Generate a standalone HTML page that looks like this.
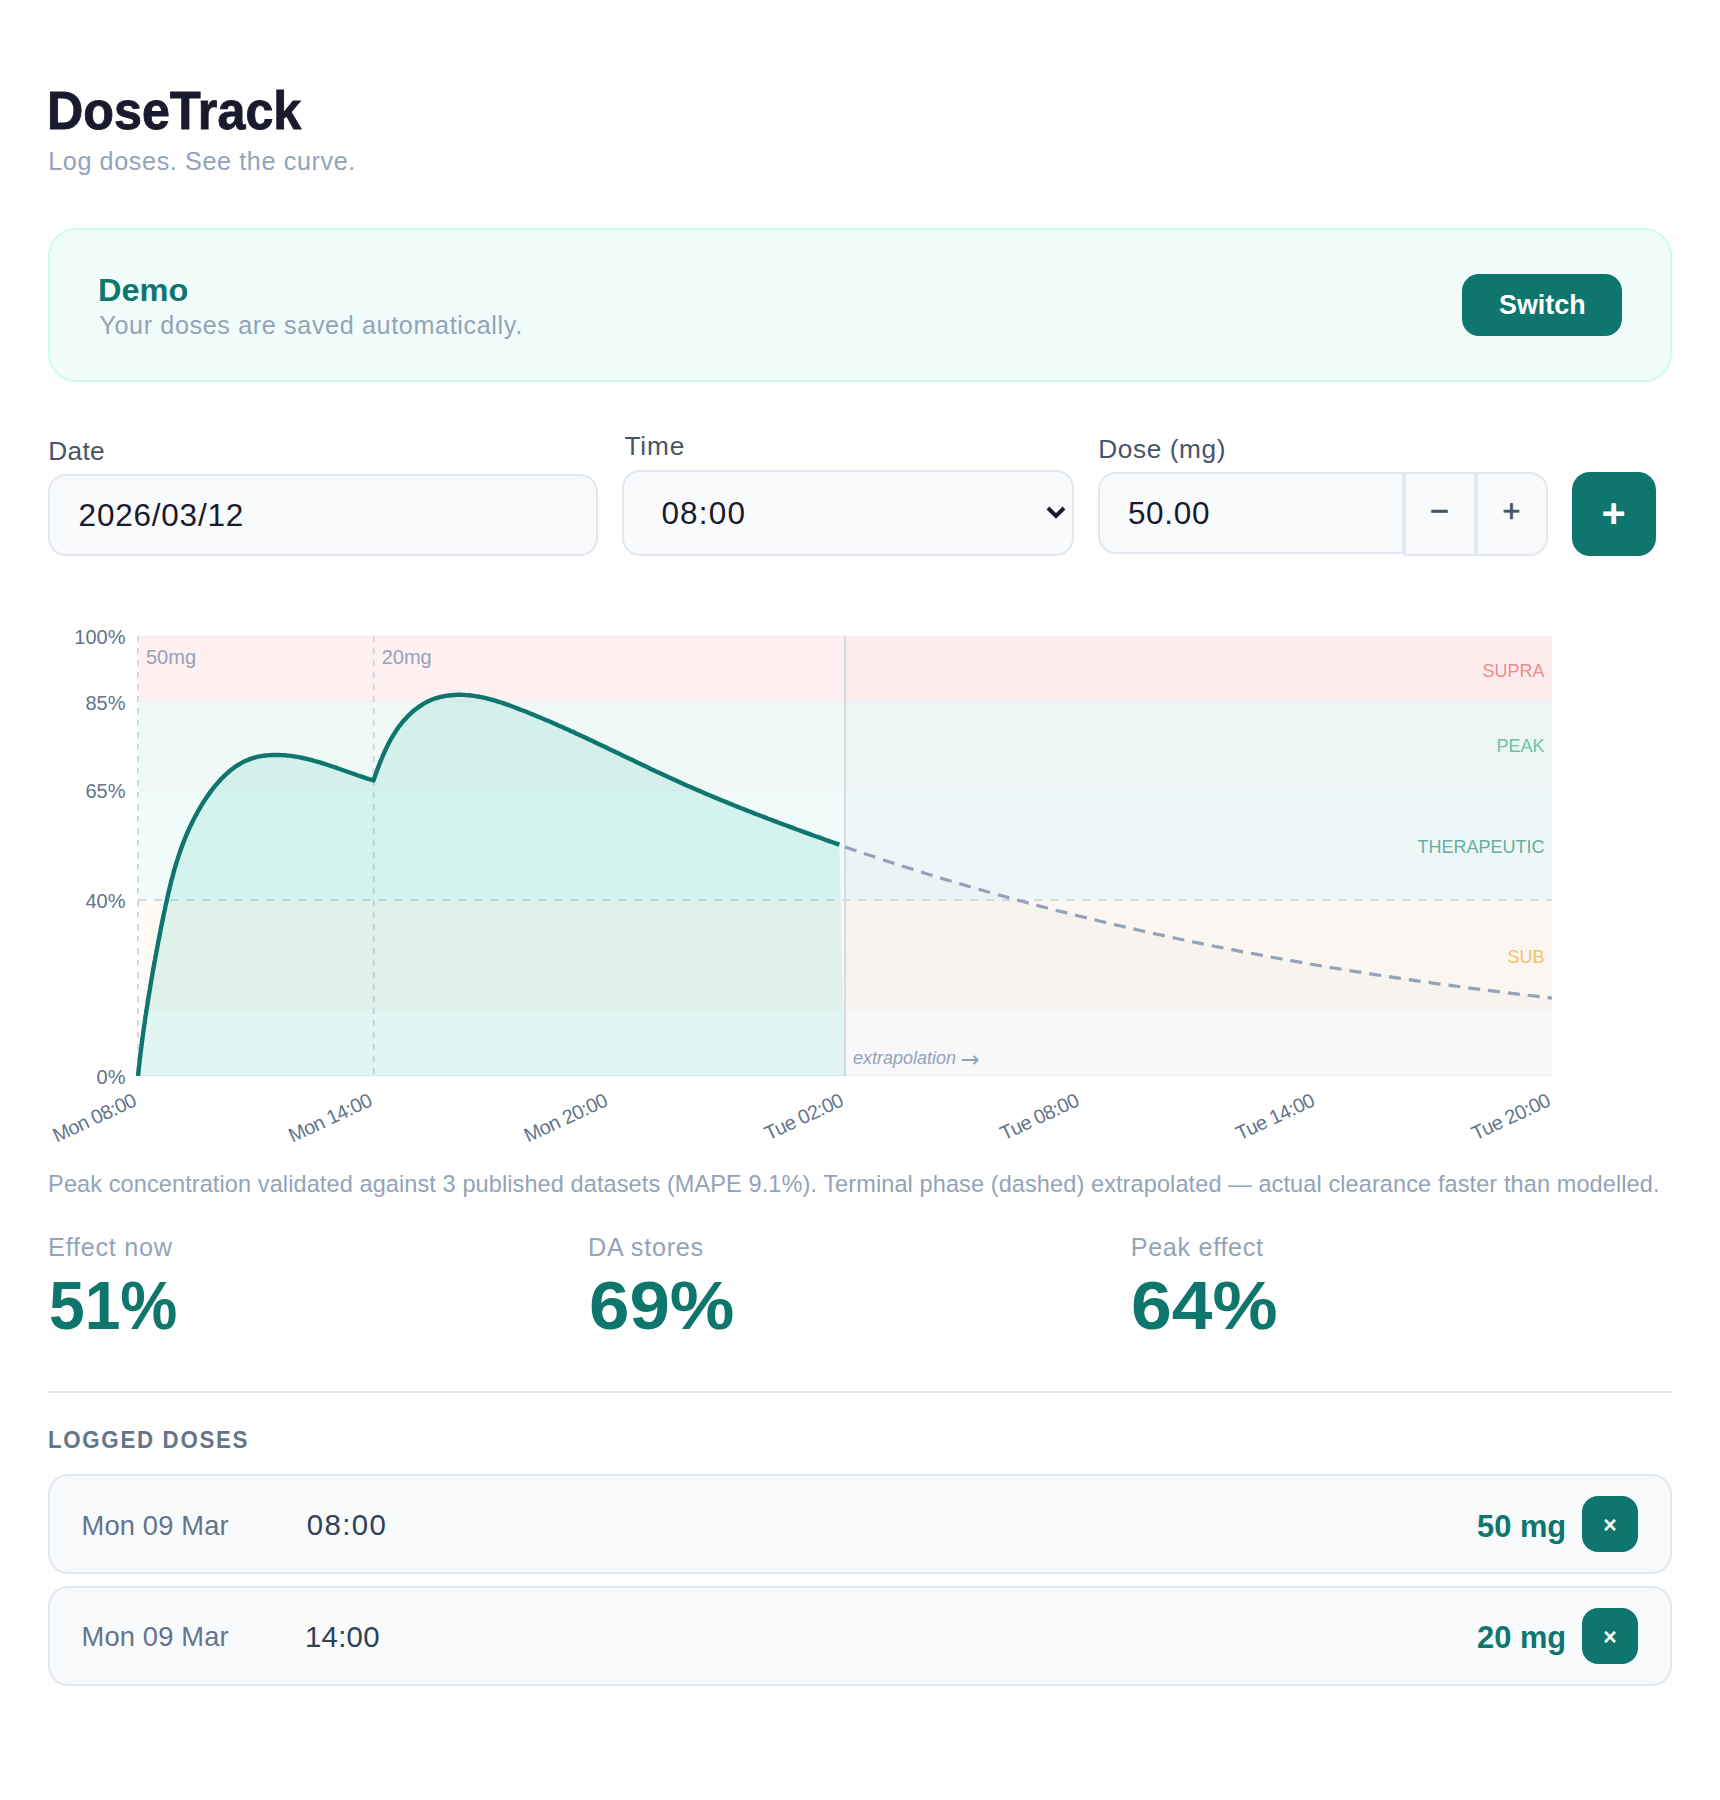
<!DOCTYPE html>
<html lang="en"><head><meta charset="utf-8"><title>DoseTrack</title>
<style>
*{box-sizing:border-box;margin:0;padding:0}
html,body{width:1720px;height:1800px;background:#fff;overflow:hidden}
body{font-family:"Liberation Sans",Arial,sans-serif;color:#1a1a2e;position:relative}
.abs{position:absolute;white-space:nowrap}
h1{font-weight:700;color:#1a1a2e;-webkit-text-stroke:0.9px #1a1a2e}
.sub,.saved,.note,.slabel{color:#94a3b8}
.banner{left:48px;top:228px;width:1624px;height:154px;background:#f0fdfa;border:2px solid #ccfbf1;border-radius:28px}
.demo{font-weight:700;color:#0f766e}
button{font-family:"Liberation Sans",Arial,sans-serif;border:0;cursor:pointer;padding:0}
.switch{left:1412px;top:44px;width:160px;height:62px;border-radius:17px;background:#0f766e}
.swt{color:#fff;font-weight:700;pointer-events:none}
label{color:#475569}
.field{background:#f8fafc;border:2px solid #e2e8f0;border-radius:18px;font-family:"Liberation Sans",Arial,sans-serif;color:#1a1a2e;outline:0;appearance:none;-webkit-appearance:none}
.step{background:#f8fafc;border:2px solid #e2e8f0;color:#475569;border-radius:0}
.add{left:1572px;top:472px;width:84px;height:84px;border-radius:18px;background:#0f766e;color:#fff}
svg text{font-family:"Liberation Sans",Arial,sans-serif}
.sval{font-weight:700;color:#0f766e}
.hr{left:48px;top:1391px;width:1624px;height:2px;background:#e2e8f0}
.logged{font-weight:700;color:#64748b}
.row{left:48px;width:1624px;height:99.5px;background:#f8fafc;border:2px solid #e2e8f0;border-radius:20px}
.rdate{color:#64748b}
.rtime{color:#334155}
.rdose{font-weight:700;color:#0f766e}
.del{left:1532px;width:56px;height:56px;border-radius:16px;background:#0f766e;color:#fff;font-size:23px;font-weight:700;line-height:26px;padding-top:3.4px}
</style></head><body>
<h1 class="abs" id="title" style="left:47.20px;top:84.81px;font-size:52.94px;line-height:52.94px;letter-spacing:0.000px;transform:scaleX(0.9497);transform-origin:0 0;">DoseTrack</h1>
<p class="abs sub" id="sub" style="left:48.20px;top:148.67px;font-size:25.2px;line-height:25.2px;letter-spacing:0.602px;">Log doses. See the curve.</p>

<section class="abs banner" id="banner">
<div class="abs demo" id="demo" style="left:48.30px;top:45.34px;font-size:31.5px;line-height:31.5px;letter-spacing:0.000px;transform:scaleX(1.0334);transform-origin:0 0;">Demo</div>
<div class="abs saved" id="saved" style="left:49.30px;top:82.67px;font-size:25.2px;line-height:25.2px;letter-spacing:0.618px;">Your doses are saved automatically.</div>
<button class="abs switch" id="switch"><span class="abs swt" id="swt" style="left:37.30px;top:16.98px;font-size:27.2px;line-height:27.2px;letter-spacing:0.000px;transform:scaleX(0.9885);transform-origin:0 0;">Switch</span></button>
</section>

<label class="abs" id="ldate" for="idate" style="left:48.30px;top:437.78px;font-size:26.25px;line-height:26.25px;letter-spacing:0.270px;">Date</label>
<input class="abs field" id="idate" type="text" value="2026/03/12" style="left:48px;top:474px;width:550px;height:82px;padding:0 0 0 28.60px;font-size:31.5px;letter-spacing:0.778px;">
<label class="abs" id="ltime" for="itime" style="left:624.50px;top:433.28px;font-size:26.25px;line-height:26.25px;letter-spacing:0.803px;">Time</label>
<select class="abs field" id="itime" style="left:622px;top:470px;width:452px;height:86px;padding:0 0 0 37.40px;font-size:31.5px;letter-spacing:1.200px;"><option selected>08:00</option><option>14:00</option><option>20:00</option></select>
<svg class="abs" style="left:1040px;top:500px;pointer-events:none" aria-hidden="true" width="32" height="24" viewBox="1040 500 32 24"><path d="M1048,508 L1056,516 L1064,508" fill="none" stroke="#1a1a2e" stroke-width="4"/></svg>
<label class="abs" id="ldose" for="idose" style="left:1098.20px;top:435.78px;font-size:26.25px;line-height:26.25px;letter-spacing:0.593px;">Dose (mg)</label>
<input class="abs field" id="idose" type="text" inputmode="decimal" value="50.00" style="left:1098px;top:472px;width:306px;height:82px;padding:0 0 0 27.90px;font-size:31.5px;letter-spacing:0.700px;border-radius:18px 0 0 18px">
<button class="abs step" id="minus" aria-label="Decrease dose" style="left:1404px;top:472px;width:72px;height:84px"><span class="abs" id="gminus" style="left:23.7px;top:21.4px;font-size:32.6px;line-height:32.6px;color:#475569;-webkit-text-stroke:0.7px #475569">−</span></button>
<button class="abs step" id="plus" aria-label="Increase dose" style="left:1476px;top:472px;width:72px;height:84px;border-radius:0 18px 18px 0"><span class="abs" id="gplus" style="left:24.5px;top:21.9px;font-size:30.6px;line-height:30.6px;color:#475569;-webkit-text-stroke:0.7px #475569">+</span></button>
<button class="abs add" id="add" aria-label="Add dose"><span class="abs" id="gadd" style="left:29.6px;top:19.6px;font-size:41.5px;line-height:41.5px;font-weight:700;color:#fff">+</span></button>

<svg class="abs" id="chart" role="img" aria-label="Effect curve" style="left:0;top:600px" width="1720" height="560" viewBox="0 600 1720 560">
<g>
<rect x="138" y="636" width="1414" height="65.5" fill="#fef0f0"/>
<rect x="138" y="701.5" width="1414" height="89" fill="#f0f9f6"/>
<rect x="138" y="790.5" width="1414" height="110.1" fill="#f1fbfa"/>
<rect x="138" y="900.6" width="1414" height="109.4" fill="#fefaf4"/>
<rect x="845" y="636" width="707" height="440" fill="#94a3b8" fill-opacity="0.04"/>
</g>
<g stroke="#edf1f6" stroke-width="1" fill="none">
<line x1="138" y1="636" x2="1552" y2="636"/><line x1="138" y1="701.5" x2="1552" y2="701.5"/><line x1="138" y1="790.5" x2="1552" y2="790.5"/><line x1="138" y1="1075.8" x2="1552" y2="1075.8"/>
</g>
<g stroke="#d2d9e5" stroke-width="2" fill="none">
<line x1="138" y1="900" x2="1552" y2="900" stroke-dasharray="8 8"/>
<line x1="138" y1="636" x2="138" y2="1076" stroke-dasharray="6 6"/>
<line x1="373.7" y1="636" x2="373.7" y2="1076" stroke-dasharray="6 6"/>
<line x1="845" y1="636" x2="845" y2="1076" stroke="#d3dbe6"/>
</g>
<path d="M845.1,846.9 L850.8,848.9 L856.4,850.8 L862.1,852.8 L867.8,854.7 L873.5,856.6 L879.2,858.5 L884.9,860.4 L890.6,862.3 L896.3,864.1 L902.0,866.0 L907.7,867.8 L913.5,869.6 L919.2,871.4 L924.9,873.2 L930.6,875.0 L936.4,876.7 L942.1,878.5 L947.8,880.2 L953.6,881.9 L959.3,883.6 L965.1,885.3 L970.9,887.0 L976.6,888.7 L982.4,890.3 L988.2,892.0 L993.9,893.6 L999.7,895.2 L1005.5,896.8 L1011.3,898.4 L1017.1,900.0 L1022.8,901.5 L1028.6,903.1 L1034.4,904.6 L1040.2,906.2 L1046.0,907.7 L1051.8,909.2 L1057.7,910.7 L1063.5,912.1 L1069.3,913.6 L1075.1,915.1 L1080.9,916.5 L1086.8,917.9 L1092.6,919.3 L1098.4,920.8 L1104.2,922.1 L1110.1,923.5 L1115.9,924.9 L1121.8,926.3 L1127.6,927.6 L1133.5,928.9 L1139.3,930.3 L1145.2,931.6 L1151.0,932.9 L1156.9,934.2 L1162.7,935.4 L1168.6,936.7 L1174.5,938.0 L1180.3,939.2 L1186.2,940.4 L1192.1,941.7 L1198.0,942.9 L1203.8,944.1 L1209.7,945.3 L1215.6,946.5 L1221.5,947.6 L1227.4,948.8 L1233.3,949.9 L1239.2,951.1 L1245.1,952.2 L1251.0,953.3 L1256.9,954.4 L1262.8,955.5 L1268.7,956.6 L1274.6,957.7 L1280.5,958.8 L1286.4,959.8 L1292.3,960.9 L1298.2,961.9 L1304.1,962.9 L1310.0,964.0 L1315.9,965.0 L1321.9,966.0 L1327.8,967.0 L1333.7,968.0 L1339.6,968.9 L1345.5,969.9 L1351.5,970.8 L1357.4,971.8 L1363.3,972.7 L1369.3,973.7 L1375.2,974.6 L1381.1,975.5 L1387.1,976.4 L1393.0,977.3 L1398.9,978.2 L1404.9,979.0 L1410.8,979.9 L1416.7,980.8 L1422.7,981.6 L1428.6,982.4 L1434.6,983.3 L1440.5,984.1 L1446.5,984.9 L1452.4,985.7 L1458.4,986.5 L1464.3,987.3 L1470.2,988.1 L1476.2,988.9 L1482.1,989.6 L1488.1,990.4 L1494.0,991.2 L1500.0,991.9 L1505.9,992.6 L1511.9,993.4 L1517.9,994.1 L1523.8,994.8 L1529.8,995.5 L1535.7,996.2 L1541.7,996.9 L1547.6,997.6 L1552.0,998.1 L1552,1076 L845,1076 Z" fill="#94a3b8" fill-opacity="0.03"/>
<path d="M138.0,1076.0 L138.3,1073.1 L138.6,1070.2 L138.9,1067.3 L139.3,1064.3 L139.6,1061.4 L139.9,1058.5 L140.3,1055.6 L140.6,1052.6 L141.0,1049.7 L141.4,1046.7 L141.7,1043.8 L142.1,1040.8 L142.5,1037.8 L142.9,1034.9 L143.3,1031.9 L143.7,1028.9 L144.1,1025.9 L144.6,1023.0 L145.0,1020.0 L145.4,1017.0 L145.9,1014.0 L146.3,1011.0 L146.8,1008.0 L147.3,1005.0 L147.7,1002.1 L148.2,999.1 L148.7,996.1 L149.2,993.1 L149.7,990.1 L150.2,987.1 L150.7,984.1 L151.2,981.1 L151.7,978.1 L152.2,975.1 L152.7,972.1 L153.2,969.1 L153.8,966.1 L154.3,963.1 L154.9,960.1 L155.4,957.1 L156.0,954.1 L156.5,951.2 L157.1,948.2 L157.7,945.2 L158.2,942.2 L158.8,939.2 L159.4,936.3 L160.0,933.3 L160.5,930.3 L161.1,927.4 L161.7,924.4 L162.3,921.5 L162.9,918.5 L163.5,915.6 L164.1,912.6 L164.8,909.7 L165.4,906.7 L166.0,903.8 L166.7,900.9 L167.3,898.0 L168.0,895.1 L168.6,892.2 L169.3,889.3 L170.0,886.4 L170.7,883.5 L171.4,880.6 L172.2,877.8 L173.0,874.9 L173.7,872.0 L174.5,869.2 L175.4,866.4 L176.2,863.5 L177.1,860.7 L178.0,857.9 L178.9,855.1 L179.8,852.3 L180.8,849.5 L181.8,846.7 L182.8,843.9 L183.9,841.2 L185.0,838.4 L186.1,835.7 L187.3,833.0 L188.5,830.2 L189.7,827.5 L191.0,824.8 L192.3,822.1 L193.6,819.5 L195.0,816.8 L196.4,814.2 L197.9,811.5 L199.4,808.9 L200.9,806.3 L202.5,803.7 L204.1,801.1 L205.8,798.5 L207.6,795.9 L209.4,793.4 L211.2,790.9 L213.1,788.4 L215.0,786.0 L217.0,783.7 L219.0,781.4 L221.1,779.1 L223.2,776.9 L225.4,774.8 L227.6,772.8 L229.9,770.8 L232.2,769.0 L234.6,767.2 L237.0,765.6 L239.5,764.1 L242.0,762.6 L244.6,761.3 L247.2,760.2 L249.9,759.1 L252.7,758.2 L255.4,757.4 L258.3,756.7 L261.1,756.2 L264.0,755.7 L266.9,755.4 L269.9,755.1 L272.9,755.0 L275.8,754.9 L278.8,755.0 L281.8,755.1 L284.9,755.3 L287.9,755.6 L290.9,755.9 L293.9,756.4 L296.9,756.9 L299.9,757.4 L302.9,758.0 L305.8,758.7 L308.8,759.4 L311.8,760.2 L314.7,761.0 L317.7,761.8 L320.7,762.7 L323.6,763.6 L326.5,764.5 L329.4,765.5 L332.4,766.5 L335.3,767.4 L338.2,768.5 L341.0,769.5 L343.9,770.5 L346.8,771.5 L349.6,772.5 L352.5,773.5 L355.3,774.5 L358.1,775.5 L360.9,776.4 L363.7,777.4 L366.4,778.3 L369.2,779.2 L371.9,780.0 L373.5,780.5 L374.4,777.8 L375.4,775.1 L376.3,772.4 L377.3,769.7 L378.4,766.9 L379.4,764.1 L380.5,761.3 L381.7,758.5 L382.9,755.6 L384.1,752.8 L385.4,750.0 L386.7,747.2 L388.1,744.5 L389.5,741.7 L391.0,739.0 L392.6,736.3 L394.2,733.7 L395.9,731.1 L397.6,728.5 L399.4,726.0 L401.3,723.6 L403.2,721.2 L405.3,718.9 L407.3,716.7 L409.5,714.6 L411.7,712.5 L414.0,710.5 L416.3,708.7 L418.7,706.9 L421.2,705.3 L423.7,703.7 L426.2,702.3 L428.9,701.0 L431.5,699.8 L434.3,698.8 L437.0,697.9 L439.8,697.1 L442.7,696.5 L445.6,695.9 L448.5,695.5 L451.4,695.2 L454.3,695.0 L457.3,694.8 L460.3,694.8 L463.2,694.9 L466.2,695.1 L469.2,695.3 L472.1,695.6 L475.0,696.1 L478.0,696.5 L480.9,697.1 L483.8,697.7 L486.7,698.4 L489.5,699.1 L492.4,699.9 L495.3,700.7 L498.1,701.6 L501.0,702.5 L503.8,703.4 L506.6,704.4 L509.5,705.4 L512.3,706.5 L515.1,707.5 L517.9,708.6 L520.7,709.7 L523.5,710.7 L526.3,711.8 L529.1,713.0 L531.9,714.1 L534.7,715.2 L537.5,716.4 L540.2,717.5 L543.0,718.7 L545.8,719.9 L548.6,721.1 L551.3,722.3 L554.1,723.5 L556.9,724.7 L559.6,725.9 L562.4,727.1 L565.1,728.4 L567.9,729.6 L570.6,730.9 L573.4,732.1 L576.1,733.4 L578.9,734.7 L581.6,735.9 L584.4,737.2 L587.1,738.5 L589.8,739.8 L592.6,741.1 L595.3,742.4 L598.1,743.7 L600.8,745.0 L603.5,746.3 L606.2,747.6 L609.0,748.9 L611.7,750.2 L614.4,751.5 L617.1,752.8 L619.9,754.1 L622.6,755.4 L625.3,756.7 L628.0,758.0 L630.8,759.3 L633.5,760.6 L636.2,761.9 L638.9,763.2 L641.6,764.5 L644.4,765.8 L647.1,767.1 L649.8,768.4 L652.5,769.7 L655.2,771.0 L657.9,772.2 L660.7,773.5 L663.4,774.8 L666.1,776.0 L668.8,777.3 L671.5,778.5 L674.3,779.8 L677.0,781.0 L679.7,782.2 L682.4,783.5 L685.1,784.7 L687.9,785.9 L690.6,787.1 L693.3,788.3 L696.1,789.5 L698.8,790.6 L701.5,791.8 L704.2,793.0 L707.0,794.2 L709.7,795.3 L712.5,796.5 L715.2,797.6 L717.9,798.7 L720.7,799.9 L723.4,801.0 L726.2,802.1 L728.9,803.3 L731.7,804.4 L734.4,805.5 L737.2,806.6 L739.9,807.7 L742.7,808.8 L745.4,809.9 L748.2,811.0 L751.0,812.0 L753.7,813.1 L756.5,814.2 L759.3,815.3 L762.1,816.3 L764.9,817.4 L767.6,818.5 L770.4,819.5 L773.2,820.6 L776.0,821.6 L778.8,822.7 L781.6,823.7 L784.4,824.8 L787.2,825.8 L790.0,826.9 L792.9,827.9 L795.7,829.0 L798.5,830.0 L801.3,831.0 L804.2,832.1 L807.0,833.1 L809.8,834.1 L812.7,835.2 L815.5,836.2 L818.4,837.2 L821.3,838.2 L824.1,839.3 L827.0,840.3 L829.9,841.3 L832.7,842.3 L835.6,843.4 L838.5,844.4 L839.4,844.7 L845,1076 L138,1076 Z" fill="#14b8a6" fill-opacity="0.13"/>
<path d="M138.0,1076.0 L138.3,1073.1 L138.6,1070.2 L138.9,1067.3 L139.3,1064.3 L139.6,1061.4 L139.9,1058.5 L140.3,1055.6 L140.6,1052.6 L141.0,1049.7 L141.4,1046.7 L141.7,1043.8 L142.1,1040.8 L142.5,1037.8 L142.9,1034.9 L143.3,1031.9 L143.7,1028.9 L144.1,1025.9 L144.6,1023.0 L145.0,1020.0 L145.4,1017.0 L145.9,1014.0 L146.3,1011.0 L146.8,1008.0 L147.3,1005.0 L147.7,1002.1 L148.2,999.1 L148.7,996.1 L149.2,993.1 L149.7,990.1 L150.2,987.1 L150.7,984.1 L151.2,981.1 L151.7,978.1 L152.2,975.1 L152.7,972.1 L153.2,969.1 L153.8,966.1 L154.3,963.1 L154.9,960.1 L155.4,957.1 L156.0,954.1 L156.5,951.2 L157.1,948.2 L157.7,945.2 L158.2,942.2 L158.8,939.2 L159.4,936.3 L160.0,933.3 L160.5,930.3 L161.1,927.4 L161.7,924.4 L162.3,921.5 L162.9,918.5 L163.5,915.6 L164.1,912.6 L164.8,909.7 L165.4,906.7 L166.0,903.8 L166.7,900.9 L167.3,898.0 L168.0,895.1 L168.6,892.2 L169.3,889.3 L170.0,886.4 L170.7,883.5 L171.4,880.6 L172.2,877.8 L173.0,874.9 L173.7,872.0 L174.5,869.2 L175.4,866.4 L176.2,863.5 L177.1,860.7 L178.0,857.9 L178.9,855.1 L179.8,852.3 L180.8,849.5 L181.8,846.7 L182.8,843.9 L183.9,841.2 L185.0,838.4 L186.1,835.7 L187.3,833.0 L188.5,830.2 L189.7,827.5 L191.0,824.8 L192.3,822.1 L193.6,819.5 L195.0,816.8 L196.4,814.2 L197.9,811.5 L199.4,808.9 L200.9,806.3 L202.5,803.7 L204.1,801.1 L205.8,798.5 L207.6,795.9 L209.4,793.4 L211.2,790.9 L213.1,788.4 L215.0,786.0 L217.0,783.7 L219.0,781.4 L221.1,779.1 L223.2,776.9 L225.4,774.8 L227.6,772.8 L229.9,770.8 L232.2,769.0 L234.6,767.2 L237.0,765.6 L239.5,764.1 L242.0,762.6 L244.6,761.3 L247.2,760.2 L249.9,759.1 L252.7,758.2 L255.4,757.4 L258.3,756.7 L261.1,756.2 L264.0,755.7 L266.9,755.4 L269.9,755.1 L272.9,755.0 L275.8,754.9 L278.8,755.0 L281.8,755.1 L284.9,755.3 L287.9,755.6 L290.9,755.9 L293.9,756.4 L296.9,756.9 L299.9,757.4 L302.9,758.0 L305.8,758.7 L308.8,759.4 L311.8,760.2 L314.7,761.0 L317.7,761.8 L320.7,762.7 L323.6,763.6 L326.5,764.5 L329.4,765.5 L332.4,766.5 L335.3,767.4 L338.2,768.5 L341.0,769.5 L343.9,770.5 L346.8,771.5 L349.6,772.5 L352.5,773.5 L355.3,774.5 L358.1,775.5 L360.9,776.4 L363.7,777.4 L366.4,778.3 L369.2,779.2 L371.9,780.0 L373.5,780.5 L374.4,777.8 L375.4,775.1 L376.3,772.4 L377.3,769.7 L378.4,766.9 L379.4,764.1 L380.5,761.3 L381.7,758.5 L382.9,755.6 L384.1,752.8 L385.4,750.0 L386.7,747.2 L388.1,744.5 L389.5,741.7 L391.0,739.0 L392.6,736.3 L394.2,733.7 L395.9,731.1 L397.6,728.5 L399.4,726.0 L401.3,723.6 L403.2,721.2 L405.3,718.9 L407.3,716.7 L409.5,714.6 L411.7,712.5 L414.0,710.5 L416.3,708.7 L418.7,706.9 L421.2,705.3 L423.7,703.7 L426.2,702.3 L428.9,701.0 L431.5,699.8 L434.3,698.8 L437.0,697.9 L439.8,697.1 L442.7,696.5 L445.6,695.9 L448.5,695.5 L451.4,695.2 L454.3,695.0 L457.3,694.8 L460.3,694.8 L463.2,694.9 L466.2,695.1 L469.2,695.3 L472.1,695.6 L475.0,696.1 L478.0,696.5 L480.9,697.1 L483.8,697.7 L486.7,698.4 L489.5,699.1 L492.4,699.9 L495.3,700.7 L498.1,701.6 L501.0,702.5 L503.8,703.4 L506.6,704.4 L509.5,705.4 L512.3,706.5 L515.1,707.5 L517.9,708.6 L520.7,709.7 L523.5,710.7 L526.3,711.8 L529.1,713.0 L531.9,714.1 L534.7,715.2 L537.5,716.4 L540.2,717.5 L543.0,718.7 L545.8,719.9 L548.6,721.1 L551.3,722.3 L554.1,723.5 L556.9,724.7 L559.6,725.9 L562.4,727.1 L565.1,728.4 L567.9,729.6 L570.6,730.9 L573.4,732.1 L576.1,733.4 L578.9,734.7 L581.6,735.9 L584.4,737.2 L587.1,738.5 L589.8,739.8 L592.6,741.1 L595.3,742.4 L598.1,743.7 L600.8,745.0 L603.5,746.3 L606.2,747.6 L609.0,748.9 L611.7,750.2 L614.4,751.5 L617.1,752.8 L619.9,754.1 L622.6,755.4 L625.3,756.7 L628.0,758.0 L630.8,759.3 L633.5,760.6 L636.2,761.9 L638.9,763.2 L641.6,764.5 L644.4,765.8 L647.1,767.1 L649.8,768.4 L652.5,769.7 L655.2,771.0 L657.9,772.2 L660.7,773.5 L663.4,774.8 L666.1,776.0 L668.8,777.3 L671.5,778.5 L674.3,779.8 L677.0,781.0 L679.7,782.2 L682.4,783.5 L685.1,784.7 L687.9,785.9 L690.6,787.1 L693.3,788.3 L696.1,789.5 L698.8,790.6 L701.5,791.8 L704.2,793.0 L707.0,794.2 L709.7,795.3 L712.5,796.5 L715.2,797.6 L717.9,798.7 L720.7,799.9 L723.4,801.0 L726.2,802.1 L728.9,803.3 L731.7,804.4 L734.4,805.5 L737.2,806.6 L739.9,807.7 L742.7,808.8 L745.4,809.9 L748.2,811.0 L751.0,812.0 L753.7,813.1 L756.5,814.2 L759.3,815.3 L762.1,816.3 L764.9,817.4 L767.6,818.5 L770.4,819.5 L773.2,820.6 L776.0,821.6 L778.8,822.7 L781.6,823.7 L784.4,824.8 L787.2,825.8 L790.0,826.9 L792.9,827.9 L795.7,829.0 L798.5,830.0 L801.3,831.0 L804.2,832.1 L807.0,833.1 L809.8,834.1 L812.7,835.2 L815.5,836.2 L818.4,837.2 L821.3,838.2 L824.1,839.3 L827.0,840.3 L829.9,841.3 L832.7,842.3 L835.6,843.4 L838.5,844.4 L839.4,844.7" fill="none" stroke="#0f766e" stroke-width="4.4" stroke-linejoin="round" stroke-linecap="butt"/>
<path d="M845.1,846.9 L850.8,848.9 L856.4,850.8 L862.1,852.8 L867.8,854.7 L873.5,856.6 L879.2,858.5 L884.9,860.4 L890.6,862.3 L896.3,864.1 L902.0,866.0 L907.7,867.8 L913.5,869.6 L919.2,871.4 L924.9,873.2 L930.6,875.0 L936.4,876.7 L942.1,878.5 L947.8,880.2 L953.6,881.9 L959.3,883.6 L965.1,885.3 L970.9,887.0 L976.6,888.7 L982.4,890.3 L988.2,892.0 L993.9,893.6 L999.7,895.2 L1005.5,896.8 L1011.3,898.4 L1017.1,900.0 L1022.8,901.5 L1028.6,903.1 L1034.4,904.6 L1040.2,906.2 L1046.0,907.7 L1051.8,909.2 L1057.7,910.7 L1063.5,912.1 L1069.3,913.6 L1075.1,915.1 L1080.9,916.5 L1086.8,917.9 L1092.6,919.3 L1098.4,920.8 L1104.2,922.1 L1110.1,923.5 L1115.9,924.9 L1121.8,926.3 L1127.6,927.6 L1133.5,928.9 L1139.3,930.3 L1145.2,931.6 L1151.0,932.9 L1156.9,934.2 L1162.7,935.4 L1168.6,936.7 L1174.5,938.0 L1180.3,939.2 L1186.2,940.4 L1192.1,941.7 L1198.0,942.9 L1203.8,944.1 L1209.7,945.3 L1215.6,946.5 L1221.5,947.6 L1227.4,948.8 L1233.3,949.9 L1239.2,951.1 L1245.1,952.2 L1251.0,953.3 L1256.9,954.4 L1262.8,955.5 L1268.7,956.6 L1274.6,957.7 L1280.5,958.8 L1286.4,959.8 L1292.3,960.9 L1298.2,961.9 L1304.1,962.9 L1310.0,964.0 L1315.9,965.0 L1321.9,966.0 L1327.8,967.0 L1333.7,968.0 L1339.6,968.9 L1345.5,969.9 L1351.5,970.8 L1357.4,971.8 L1363.3,972.7 L1369.3,973.7 L1375.2,974.6 L1381.1,975.5 L1387.1,976.4 L1393.0,977.3 L1398.9,978.2 L1404.9,979.0 L1410.8,979.9 L1416.7,980.8 L1422.7,981.6 L1428.6,982.4 L1434.6,983.3 L1440.5,984.1 L1446.5,984.9 L1452.4,985.7 L1458.4,986.5 L1464.3,987.3 L1470.2,988.1 L1476.2,988.9 L1482.1,989.6 L1488.1,990.4 L1494.0,991.2 L1500.0,991.9 L1505.9,992.6 L1511.9,993.4 L1517.9,994.1 L1523.8,994.8 L1529.8,995.5 L1535.7,996.2 L1541.7,996.9 L1547.6,997.6 L1552.0,998.1" fill="none" stroke="#94a3b8" stroke-width="3.2" stroke-dasharray="12 8"/>
<g font-size="20" fill="#64748b" text-anchor="end">
<text x="125.5" y="643.5">100%</text><text x="125.5" y="709.5">85%</text><text x="125.5" y="797.5">65%</text><text x="125.5" y="907.5">40%</text><text x="125.5" y="1083.5">0%</text>
</g>
<g font-size="20" fill="#94a3b8"><text x="146" y="663.6">50mg</text><text x="381.7" y="663.6">20mg</text></g>
<g font-size="18" text-anchor="end">
<text x="1544.5" y="676.6" fill="#f28b8b">SUPRA</text>
<text x="1544.5" y="751.9" fill="#6cc5a4">PEAK</text>
<text x="1544.5" y="852.6" fill="#6aae9f">THERAPEUTIC</text>
<text x="1544.5" y="962.6" fill="#f6c067">SUB</text>
</g>
<text x="853" y="1063.5" font-size="18" font-style="italic" fill="#94a3b8">extrapolation <tspan font-family="DejaVu Sans" font-style="normal" font-size="22.5" dx="-0.5" dy="3.2">→</tspan></text>
<g font-size="20" fill="#64748b" letter-spacing="-0.6"><text x="137.5" y="1105.2" text-anchor="end" transform="rotate(-25 137.5 1105.2)">Mon 08:00</text><text x="373.2" y="1105.2" text-anchor="end" transform="rotate(-25 373.2 1105.2)">Mon 14:00</text><text x="608.8" y="1105.2" text-anchor="end" transform="rotate(-25 608.8 1105.2)">Mon 20:00</text><text x="844.5" y="1105.2" text-anchor="end" transform="rotate(-25 844.5 1105.2)">Tue 02:00</text><text x="1080.2" y="1105.2" text-anchor="end" transform="rotate(-25 1080.2 1105.2)">Tue 08:00</text><text x="1315.8" y="1105.2" text-anchor="end" transform="rotate(-25 1315.8 1105.2)">Tue 14:00</text><text x="1551.5" y="1105.2" text-anchor="end" transform="rotate(-25 1551.5 1105.2)">Tue 20:00</text></g>
</svg>

<p class="abs note" id="note" style="left:48.10px;top:1173.09px;font-size:23.52px;line-height:23.52px;letter-spacing:0.098px;">Peak concentration validated against 3 published datasets (MAPE 9.1%). Terminal phase (dashed) extrapolated — actual clearance faster than modelled.</p>

<div class="abs slabel" id="s1l" style="left:48.10px;top:1235.17px;font-size:25.2px;line-height:25.2px;letter-spacing:0.746px;">Effect now</div>
<div class="abs sval" id="s1v" style="left:48.50px;top:1270.84px;font-size:69.3px;line-height:69.3px;letter-spacing:0.000px;transform:scaleX(0.9259);transform-origin:0 0;">51%</div>
<div class="abs slabel" id="s2l" style="left:588.00px;top:1235.17px;font-size:25.2px;line-height:25.2px;letter-spacing:0.750px;">DA stores</div>
<div class="abs sval" id="s2v" style="left:589.00px;top:1270.84px;font-size:69.3px;line-height:69.3px;letter-spacing:0.000px;transform:scaleX(1.0491);transform-origin:0 0;">69%</div>
<div class="abs slabel" id="s3l" style="left:1130.70px;top:1235.17px;font-size:25.2px;line-height:25.2px;letter-spacing:0.680px;">Peak effect</div>
<div class="abs sval" id="s3v" style="left:1130.80px;top:1270.84px;font-size:69.3px;line-height:69.3px;letter-spacing:0.000px;transform:scaleX(1.0568);transform-origin:0 0;">64%</div>

<div class="abs hr" id="hr"></div>
<h2 class="abs logged" id="logged" style="left:48.10px;top:1428.32px;font-size:23.84px;line-height:23.84px;letter-spacing:1.800px;transform:scaleX(0.9356);transform-origin:0 0;">LOGGED DOSES</h2>
<ul id="doses" style="list-style:none">
<li class="abs row" id="row1" style="top:1474px">
<span class="abs rdate" id="r1d" style="left:31.50px;top:35.89px;font-size:27.3px;line-height:27.3px;letter-spacing:0.159px;">Mon 09 Mar</span>
<span class="abs rtime" id="r1t" style="left:256.80px;top:34.11px;font-size:29.4px;line-height:29.4px;letter-spacing:1.350px;">08:00</span>
<span class="abs rdose" id="r1m" style="left:1427.00px;top:34.59px;font-size:31.5px;line-height:31.5px;letter-spacing:0.000px;transform:scaleX(0.9794);transform-origin:0 0;">50 mg</span>
<button class="abs del" id="r1x" style="top:19.75px" aria-label="Remove dose">×</button>
</li>
<li class="abs row" id="row2" style="top:1586px">
<span class="abs rdate" id="r2d" style="left:31.50px;top:34.89px;font-size:27.3px;line-height:27.3px;letter-spacing:0.159px;">Mon 09 Mar</span>
<span class="abs rtime" id="r2t" style="left:255.00px;top:34.11px;font-size:29.4px;line-height:29.4px;letter-spacing:0.250px;">14:00</span>
<span class="abs rdose" id="r2m" style="left:1427.00px;top:34.34px;font-size:31.5px;line-height:31.5px;letter-spacing:0.000px;transform:scaleX(0.9794);transform-origin:0 0;">20 mg</span>
<button class="abs del" id="r2x" style="top:19.75px" aria-label="Remove dose">×</button>
</li>
</ul>
</body></html>
